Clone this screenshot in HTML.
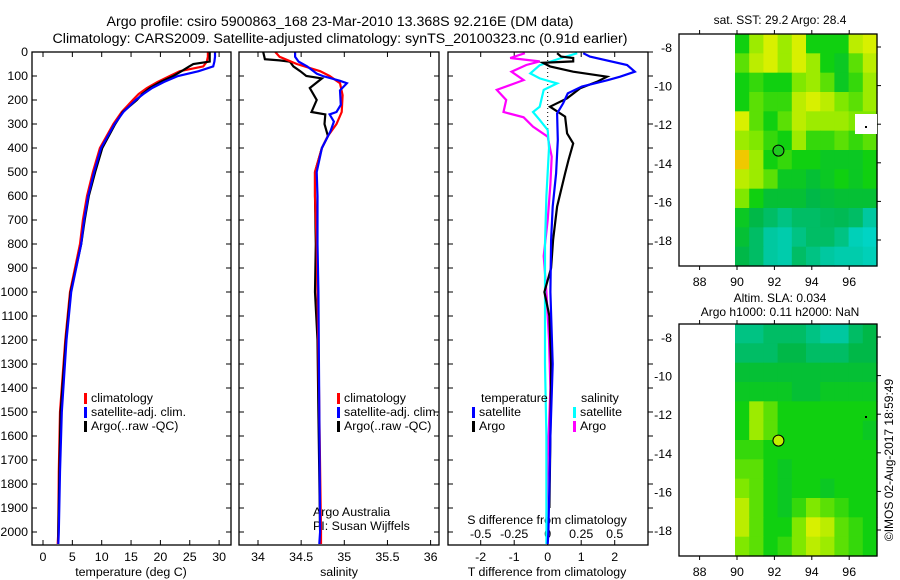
<!DOCTYPE html>
<html><head><meta charset="utf-8"><style>
html,body{margin:0;padding:0;background:#fff;}
svg{display:block;font-family:"Liberation Sans",sans-serif;}
</style></head><body>
<svg id="s" width="900" height="580" viewBox="0 0 900 580" xmlns="http://www.w3.org/2000/svg">
<text x="340" y="26" font-size="14.2" text-anchor="middle">Argo profile: csiro 5900863_168 23-Mar-2010 13.368S 92.216E (DM data)</text>
<text x="340" y="43" font-size="14.2" text-anchor="middle">Climatology: CARS2009. Satellite-adjusted climatology: synTS_20100323.nc (0.91d earlier)</text>
<text x="780" y="24" font-size="12" text-anchor="middle">sat. SST: 29.2  Argo: 28.4</text>
<text x="780" y="302" font-size="12" text-anchor="middle">Altim. SLA: 0.034</text>
<text x="780" y="316" font-size="12" text-anchor="middle">Argo h1000: 0.11 h2000: NaN</text>
<text x="0" y="0" font-size="12" text-anchor="middle" transform="translate(893,460) rotate(-90)">©IMOS 02-Aug-2017 18:59:49</text>
<text x="131" y="576" font-size="12.4" text-anchor="middle">temperature (deg C)</text>
<text x="339" y="576" font-size="12.4" text-anchor="middle">salinity</text>
<text x="547" y="576" font-size="12.4" text-anchor="middle">T difference from climatology</text>
<text x="547" y="524" font-size="12.4" text-anchor="middle">S difference from climatology</text>
<text x="313" y="516" font-size="12.4">Argo Australia</text>
<text x="313" y="530" font-size="12.4">PI: Susan Wijffels</text>
</svg>
<script>
// ---------- data ----------
const depthTicks = [0,100,200,300,400,500,600,700,800,900,1000,1100,1200,1300,1400,1500,1600,1700,1800,1900,2000];
const tTicks = [0,5,10,15,20,25,30];
const sTicks = [34,34.5,35,35.5,36];
const sTickLabels = ["34","34.5","35","35.5","36"];
const dtTicks = [-2,-1,0,1,2];
const dsTicks = [-0.5,-0.25,0,0.25,0.5];
const dsTickLabels = ["-0.5","-0.25","0","0.25","0.5"];

const climTDepth = [0,20,40,60,80,100,125,150,175,200,250,300,400,500,600,700,800,1000,1200,1500,1750,2000,2050];
const climT = [28.1,28.1,27.9,27.3,23.3,21.6,19.5,17.7,16.3,15.3,13.4,12.0,9.7,8.5,7.5,6.8,6.3,4.6,3.8,2.9,2.7,2.6,2.5];
const satT = [29.3,29.3,29.2,29.0,26.5,23.0,20.6,18.6,17.1,15.8,13.7,12.2,9.9,8.7,7.7,7.0,6.5,4.8,4.0,3.2,2.9,2.7,2.6];
const argoTDepth = [0,20,40,50,60,80,100,125,150,175,200,250,300,400,500,600,700,800,1000,1200,1500,1750,2000,2040];
const argoT = [28.4,28.4,28.4,25.6,24.9,23.6,22.2,20.0,18.2,16.9,16.0,13.6,12.3,10.1,8.9,7.8,7.1,6.5,4.7,3.9,3.0,2.8,2.6,2.6];

const climSDepth = [0,20,50,80,100,130,180,250,300,350,400,500,600,800,1000,1500,2000,2050];
const climS = [34.2,34.25,34.45,34.72,34.83,34.95,34.98,34.97,34.91,34.81,34.74,34.66,34.66,34.68,34.69,34.71,34.73,34.73];
const satSDepth = [0,20,40,60,90,100,120,130,160,220,250,260,290,330,400,500,600,800,1000,1500,2000,2050];
const satS = [34.43,34.43,34.47,34.57,34.68,34.75,34.95,35.03,34.95,34.96,34.91,34.83,34.88,34.84,34.74,34.68,34.69,34.69,34.70,34.71,34.72,34.71];
const argoSDepth = [0,30,35,40,60,80,100,110,150,200,250,260,300,350,400,500,600,800,1000,1200,1500,2000];
const argoS = [34.06,34.08,34.25,34.37,34.41,34.49,34.56,34.74,34.6,34.68,34.62,34.78,34.77,34.81,34.74,34.66,34.66,34.67,34.66,34.69,34.7,34.72];

const dTsatDepth = [5,19,54,82,103,117,144,172,214,256,367,506,644,783,1000,1300,1600,2000,2050];
const dTsat = [1.06,1.26,2.37,2.6,2.16,1.8,1.02,0.6,0.46,0.28,0.3,0.25,0.15,0.1,0.08,0.15,0.08,0.02,0.0];
const dTargoDepth = [5,19,25,39,45,60,82,103,124,151,193,228,269,339,381,450,506,644,783,900,1000,1100,1300,1600,1900];
const dTargo = [0.28,0.4,0.76,0.76,-0.14,0.07,0.76,1.77,1.47,0.97,0.58,0.07,0.52,0.58,0.76,0.62,0.52,0.28,0.16,0.1,-0.1,0.05,0.1,0.08,0.05];
const dSsatDepth = [5,27,55,89,110,131,158,228,250,283,325,400,500,600,800,1000,1300,1600,2000,2050];
const dSsat = [0.22,0.09,-0.06,-0.13,-0.06,0.07,-0.03,-0.06,-0.11,-0.06,0,0.01,0.0,-0.01,-0.02,-0.02,-0.02,-0.01,-0.01,-0.01];
const dSargoDepth = [5,25,39,54,82,117,158,200,250,272,311,353,436,550,700,850,1000,1200,1400,1700,1950];
const dSargo = [-0.17,-0.28,-0.06,-0.16,-0.27,-0.18,-0.38,-0.31,-0.33,-0.18,-0.11,0,0.03,0.02,0.0,-0.03,-0.01,0.01,0.02,0.0,-0.01];

const lonTicks = [88,90,92,94,96];
const latTicks = [-8,-10,-12,-14,-16,-18];
const sstGrid = [
[.5,.7,.8,.7,.8,.5,.5,.5,.75,.8],
[.6,.75,.8,.7,.8,.7,.5,.45,.6,.75],
[.5,.55,.5,.5,.65,.7,.6,.45,.55,.7],
[.5,.6,.55,.55,.75,.8,.75,.65,.6,.7],
[.8,.6,.5,.6,.75,.7,.7,.7,.65,.65],
[.7,.65,.55,.5,.7,.55,.55,.6,.55,.6],
[.9,.7,.5,.55,.5,.5,.45,.45,.45,.5],
[.75,.7,.6,.45,.45,.4,.45,.5,.45,.5],
[.65,.5,.4,.4,.4,.35,.38,.4,.4,.4],
[.45,.35,.3,.25,.3,.3,.32,.33,.3,.2],
[.4,.3,.2,.15,.25,.3,.3,.25,.1,.05],
[.35,.3,.2,.15,.3,.25,.2,.15,.15,.1]];
const slaGrid = [
[.25,.25,.3,.3,.3,.25,.2,.2,.3,.35],
[.3,.3,.3,.35,.35,.3,.3,.3,.35,.35],
[.4,.4,.4,.4,.4,.4,.4,.4,.4,.4],
[.45,.45,.45,.45,.4,.4,.45,.45,.45,.45],
[.5,.7,.6,.5,.5,.5,.5,.5,.5,.5],
[.5,.7,.6,.5,.5,.5,.5,.5,.5,.45],
[.55,.55,.5,.5,.5,.5,.5,.5,.5,.5],
[.6,.6,.5,.45,.5,.5,.5,.5,.5,.5],
[.65,.6,.5,.45,.5,.5,.45,.5,.5,.5],
[.75,.6,.5,.45,.55,.65,.6,.55,.5,.5],
[.75,.6,.5,.5,.65,.8,.75,.6,.55,.5],
[.65,.6,.5,.55,.65,.75,.7,.6,.55,.5]];
const floatLon = 92.216, floatLat = -13.368;

// ---------- helpers ----------
const NS="http://www.w3.org/2000/svg", svg=document.getElementById('s');
function mk(tag, attrs){const e=document.createElementNS(NS,tag);for(const k in attrs)e.setAttribute(k,attrs[k]);svg.appendChild(e);return e;}
const yD = d => 52 + 0.24*d;
const xT = t => 43 + 5.87*t;
const xS = s => 258 + 86.3*(s-34);
const xDT = v => 547.7 + 33.5*v;
const xDS = v => 547.7 + 134*v;

const defs = document.createElementNS(NS,'defs'); svg.appendChild(defs);
function clip(id,x,y,w,h){const c=document.createElementNS(NS,'clipPath');c.setAttribute('id',id);const r=document.createElementNS(NS,'rect');r.setAttribute('x',x);r.setAttribute('y',y);r.setAttribute('width',w);r.setAttribute('height',h);c.appendChild(r);defs.appendChild(c);}
const panels=[[32,231],[239,439],[448,648]];
panels.forEach((p,i)=>clip('c'+i,p[0],52,p[1]-p[0],493));

function frame(x0,x1,y0,y1,name){
  const r=mk('rect',{x:x0,y:y0,width:x1-x0,height:y1-y0,fill:'none',stroke:'#000','stroke-width':1.3});
  
  
}
function line(xs,ds,fx,color,name,ci){
  const pts=xs.map((v,i)=>fx(v).toFixed(1)+','+yD(ds[i]).toFixed(1)).join(' ');
  const p=mk('polyline',{points:pts,fill:'none',stroke:color,'stroke-width':2.2,'clip-path':'url(#c'+ci+')'});
  
  
}
function txt(x,y,s,anchor,name,size){
  const t=mk('text',{x:x,y:y,'font-size':size||12.4,'text-anchor':anchor||'start'});
  t.textContent=s;
  
  
  return t;
}
function tick(x1,y1,x2,y2){const t=mk('line',{x1:x1,y1:y1,x2:x2,y2:y2,stroke:'#000','stroke-width':1});
  
  }

depthTicks.forEach(d=>{
  const y=yD(d);
  txt(28,y+4,String(d),'end','depth-tick-label');
  tick(32,y,37,y); tick(226,y,231,y);
  tick(239,y,244,y); tick(434,y,439,y);
  tick(448,y,453,y); tick(648,y,653,y);
});
tTicks.forEach(t=>{const x=xT(t);tick(x,545,x,540);tick(x,52,x,57);txt(x,561,String(t),'middle','temperature-tick-label');});
sTicks.forEach((s,i)=>{const x=xS(s);tick(x,545,x,540);tick(x,52,x,57);txt(x,561,sTickLabels[i],'middle','salinity-tick-label');});
dtTicks.forEach(t=>{const x=xDT(t);tick(x,545,x,540);tick(x,52,x,57);txt(x,561,String(t),'middle','t-diff-tick-label');});
dsTicks.forEach((s,i)=>{const x=xDS(s);txt(x,538,dsTickLabels[i],'middle','s-diff-tick-label');});

const z=mk('line',{x1:xDT(0),y1:52,x2:xDT(0),y2:yD(330),stroke:'#000','stroke-width':1,'stroke-dasharray':'1,3'});



line(climT,climTDepth,xT,'#ff0000','temp-climatology-line',0);
line(argoT,argoTDepth,xT,'#000000','temp-argo-line',0);
line(satT,climTDepth,xT,'#0000ff','temp-satellite-line',0);
line(argoS,argoSDepth,xS,'#000000','sal-argo-line',1);
line(climS,climSDepth,xS,'#ff0000','sal-climatology-line',1);
line(satS,satSDepth,xS,'#0000ff','sal-satellite-line',1);
line(dSargo,dSargoDepth,xDS,'#ff00ff','s-diff-argo-line',2);
line(dSsat,dSsatDepth,xDS,'#00ffff','s-diff-satellite-line',2);
line(dTargo,dTargoDepth,xDT,'#000000','t-diff-argo-line',2);
line(dTsat,dTsatDepth,xDT,'#0000ff','t-diff-satellite-line',2);

frame(32,231,52,545,'temperature-panel');
frame(239,439,52,545,'salinity-panel');
frame(448,648,52,545,'difference-panel');

function legItem(x,y,color,label,name){
  const r=mk('rect',{x:x,y:y-9,width:3,height:11,fill:color});
  
  
  txt(x+7,y,label,'start',name);
}
legItem(84,402,'#ff0000','climatology','legend-climatology');
legItem(84,416,'#0000ff','satellite-adj. clim.','legend-satellite');
legItem(84,430,'#000000','Argo(..raw -QC)','legend-argo');
legItem(337,402,'#ff0000','climatology','legend-climatology-sal');
legItem(337,416,'#0000ff','satellite-adj. clim.','legend-satellite-sal');
legItem(337,430,'#000000','Argo(..raw -QC)','legend-argo-sal');
txt(481,402,'temperature','start','legend-temperature-header');
legItem(472,416,'#0000ff','satellite','legend-t-satellite');
legItem(472,430,'#000000','Argo','legend-t-argo');
txt(581,402,'salinity','start','legend-salinity-header');
legItem(573,416,'#00ffff','satellite','legend-s-satellite');
legItem(573,430,'#ff00ff','Argo','legend-s-argo');

const stops=[[0,[0,216,208]],[0.2,[0,200,160]],[0.35,[0,184,72]],[0.5,[16,208,16]],[0.65,[128,232,0]],[0.8,[216,240,0]],[0.9,[240,200,0]],[1,[240,160,0]]];
function cmap(v){for(let i=1;i<stops.length;i++){if(v<=stops[i][0]){const a=stops[i-1],b=stops[i],f=(v-a[0])/(b[0]-a[0]);return 'rgb('+a[1].map((c,k)=>Math.round(c+(b[1][k]-c)*f)).join(',')+')';}}return 'rgb(240,160,0)';}
function drawMap(grid,top,name){
  const x0=735,x1=877,y1=top+232;
  const cw=(x1-x0)/grid[0].length, ch=(y1-top)/grid.length;
  grid.forEach((row,r)=>row.forEach((v,c)=>{
    const e=mk('rect',{x:(x0+c*cw).toFixed(2),y:(top+r*ch).toFixed(2),width:(cw+0.6).toFixed(2),height:(ch+0.6).toFixed(2),fill:cmap(v)});
    
    
  }));
  const lonX=l=>737+18.7*(l-90), latY=l=>top+13+19.3*(-8-l);
  lonTicks.forEach(l=>{const x=lonX(l);tick(x,top,x,top-4);tick(x,y1,x,y1+4);txt(x,y1+20,String(l),'middle',name+'-lon-label');});
  latTicks.forEach(l=>{const y=latY(l);tick(877,y,881,y);txt(672,y+5,String(l),'end',name+'-lat-label');});
  const c=mk('circle',{cx:lonX(floatLon),cy:latY(floatLat),r:5.5,fill:name==='sst-map'?'#20c820':'#c0f000',stroke:'#000','stroke-width':1});
  
  
  const f=mk('rect',{x:679,y:top,width:198,height:232,fill:'none',stroke:'#000','stroke-width':1.3});
  
  
}
drawMap(sstGrid,34,'sst-map');
const wp=mk('rect',{x:855,y:114,width:22,height:20,fill:'#fff'});


const dt=mk('rect',{x:865,y:126,width:2,height:2,fill:'#000'});


drawMap(slaGrid,324,'sla-map');
const dt2=mk('rect',{x:865,y:416,width:2,height:2,fill:'#000'});


</script>
</body></html>
